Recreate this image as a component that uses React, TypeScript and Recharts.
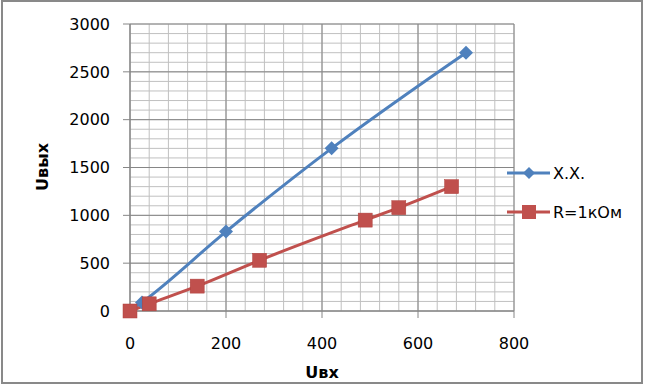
import React from 'react';
import { LineChart, Line, XAxis, YAxis, CartesianGrid, Label } from 'recharts';

// X.X. (no load) series
const noLoadX = [0, 25, 200, 420, 700];
const noLoadY = [0, 90, 830, 1700, 2700];

// R=1kOhm series
const loadX = [0, 40, 140, 270, 490, 560, 670];
const loadY = [0, 75, 260, 530, 950, 1080, 1300];

const xTicks = [0, 200, 400, 600, 800];
const yTicks = [0, 500, 1000, 1500, 2000, 2500, 3000];

const noLoadData = noLoadX.map((x, i) => ({ x, y: noLoadY[i] }));
const loadData = loadX.map((x, i) => ({ x, y: loadY[i] }));

// minor gridlines (Excel style): every 40 on x, every 100 on y
const minorX = Array.from({ length: 21 }, (_, i) => i * 40);
const minorY = Array.from({ length: 31 }, (_, i) => i * 100);

const BLUE = '#4F81BD';
const RED = '#C0504D';
const FONT = '"DejaVu Sans", sans-serif';
const MAJOR = '#868686';
const MINOR = '#c0c0c0';

const Diamond = (props: any) => {
  const { cx, cy } = props;
  if (cx == null || cy == null) return null;
  return <path d={`M${cx},${cy - 7} L${cx + 7},${cy} L${cx},${cy + 7} L${cx - 7},${cy} Z`} fill={BLUE} />;
};

const Square = (props: any) => {
  const { cx, cy } = props;
  if (cx == null || cy == null) return null;
  return <rect x={cx - 7} y={cy - 7} width={14} height={14} fill={RED} stroke="#B0403D" strokeWidth={0.5} />;
};

const LegendBox = () => (
  <svg width={130} height={70}>
    <line x1={2} y1={13} x2={45} y2={13} stroke={BLUE} strokeWidth={3} />
    <path d="M24,7 L30,13 L24,19 L18,13 Z" fill={BLUE} />
    <text x={48} y={19} fontFamily={FONT} fontSize={16} fill="#000">X.X.</text>
    <line x1={2} y1={52} x2={45} y2={52} stroke={RED} strokeWidth={3} />
    <rect x={17} y={45} width={14} height={14} fill={RED} />
    <text x={48} y={58} fontFamily={FONT} fontSize={16} fill="#000">R=1кОм</text>
  </svg>
);

export default function App() {
  return (
    <div style={{ position: 'relative', width: 645, height: 385, background: '#fff' }}>
      <style>{`body{margin:0}`}</style>
      <LineChart width={645} height={385} margin={{ top: 24, right: 131, bottom: 0, left: 0 }}>
        <CartesianGrid stroke={MINOR} horizontalValues={minorY} verticalValues={minorX} />
        <CartesianGrid stroke={MAJOR} horizontalValues={yTicks} verticalValues={xTicks} />
        <XAxis
          type="number"
          dataKey="x"
          domain={[0, 800]}
          ticks={xTicks}
          interval={0}
          height={74}
          tickSize={7}
          tickMargin={20}
          stroke={MAJOR}
          tick={{ fill: '#000', fontSize: 16, fontFamily: FONT }}
          allowDuplicatedCategory={false}
        >
          <Label
            content={() => (
              <text x={322} y={378} textAnchor="middle" fontFamily={FONT} fontSize={16} fontWeight="bold" fill="#000">
                Uвх
              </text>
            )}
          />
        </XAxis>
        <YAxis
          type="number"
          dataKey="y"
          domain={[0, 3000]}
          ticks={yTicks}
          interval={0}
          width={130}
          tickSize={7}
          tickMargin={13}
          stroke={MAJOR}
          tick={{ fill: '#000', fontSize: 16, fontFamily: FONT }}
        >
          <Label
            content={() => (
              <text
                x={48}
                y={167}
                transform="rotate(-90 48 167)"
                textAnchor="middle"
                fontFamily={FONT}
                fontSize={16}
                fontWeight="bold"
                fill="#000"
              >
                Uвых
              </text>
            )}
          />
        </YAxis>
        <Line
          data={noLoadData}
          dataKey="y"
          type="monotone"
          stroke={BLUE}
          strokeWidth={3}
          dot={<Diamond />}
          activeDot={false}
          isAnimationActive={false}
          name="X.X."
        />
        <Line
          data={loadData}
          dataKey="y"
          type="monotone"
          stroke={RED}
          strokeWidth={3}
          dot={<Square />}
          activeDot={false}
          isAnimationActive={false}
          name="R=1кОм"
        />
      </LineChart>
      <div style={{ position: 'absolute', left: 505, top: 160 }}>
        <LegendBox />
      </div>
      <div
        style={{
          position: 'absolute',
          left: 1,
          top: 0,
          width: 642,
          height: 384,
          border: '2px solid #898989',
          boxSizing: 'border-box',
          pointerEvents: 'none',
        }}
      />
    </div>
  );
}
